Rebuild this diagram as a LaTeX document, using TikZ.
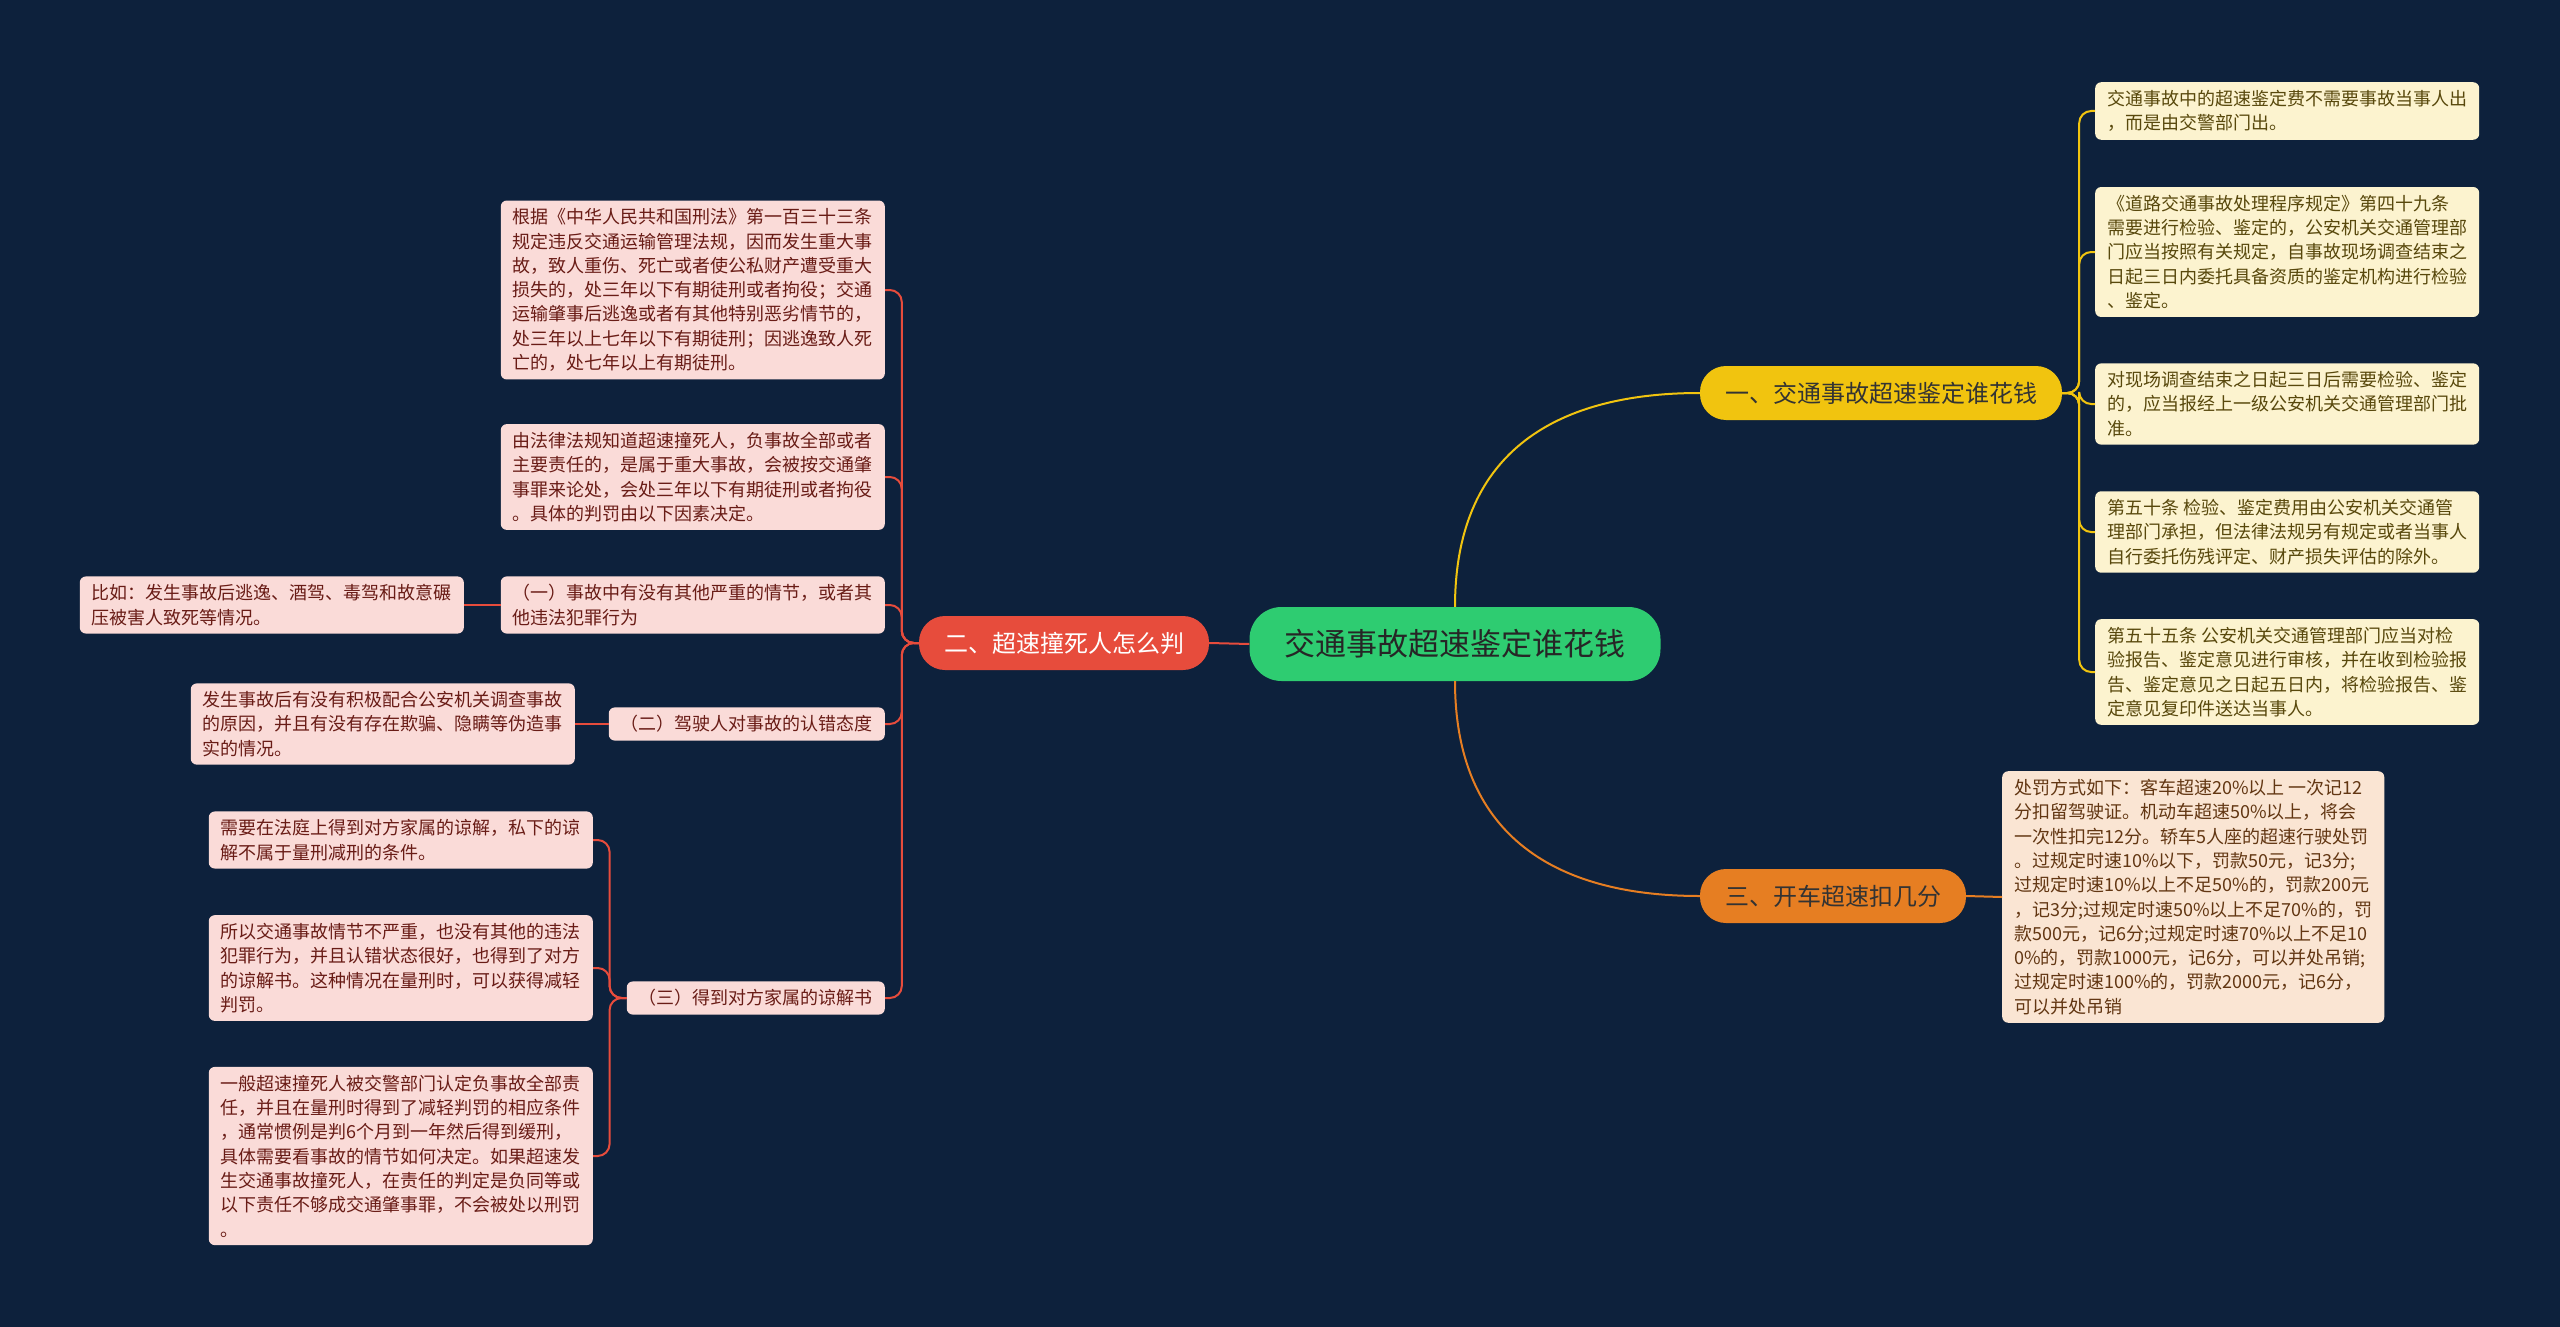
\documentclass[tikz,border=0pt]{standalone}
\usepackage{fontspec}
\setmainfont{Noto Sans CJK SC}
\usetikzlibrary{positioning}

\definecolor{bgnavy}{RGB}{13,33,60}
\definecolor{rootgreen}{RGB}{46,204,113}
\definecolor{brYellow}{RGB}{241,196,15}
\definecolor{brRed}{RGB}{231,76,60}
\definecolor{brOrange}{RGB}{230,126,34}
\definecolor{leafPink}{RGB}{250,219,216}
\definecolor{leafCream}{RGB}{252,243,207}
\definecolor{leafPeach}{RGB}{250,229,211}
\definecolor{txtPink}{RGB}{105,28,22}
\definecolor{txtCream}{RGB}{88,72,12}
\definecolor{txtPeach}{RGB}{98,54,18}

\tikzset{
  leaf/.style={rectangle, rounded corners=6pt, inner xsep=12pt, inner ysep=8pt,
    align=left, font=\fontsize{18}{24.3}\selectfont},
  pinkleaf/.style={leaf, fill=leafPink, text=txtPink},
  creamleaf/.style={leaf, fill=leafCream, text=txtCream},
  peachleaf/.style={leaf, fill=leafPeach, text=txtPeach},
  branch/.style={rectangle, rounded corners=26pt, inner xsep=25pt, minimum height=54pt,
    font=\fontsize{24}{28}\selectfont},
  link/.style={line width=2pt},
  elbow/.style={line width=2pt, rounded corners=12pt},
}

\begin{document}
\begin{tikzpicture}[x=1pt,y=-1pt]

\fill[bgnavy] (0,0) rectangle (2560,1327);
\useasboundingbox (0,0) rectangle (2560,1327);

% centre and main branches
\node (root) [rectangle, rounded corners=32pt, fill=rootgreen, text=black!85,
  inner xsep=35pt, minimum height=74pt, font=\fontsize{31}{36}\selectfont] at (1455,644) {交通事故超速鉴定谁花钱};
\node (fee) [branch, fill=brYellow, text=black!80] at (1881,393) {一、交通事故超速鉴定谁花钱};
\node (verdict) [branch, fill=brRed, text=white] at (1064,643) {二、超速撞死人怎么判};
\node (points) [branch, fill=brOrange, text=black!80] at (1833,896) {三、开车超速扣几分};

\draw[link, brYellow] (root.north) .. controls +(0,-150) and +(-150,0) .. (fee.west);
\draw[link, brRed] (root.west) -- (verdict.east);
\draw[link, brOrange] (root.south) .. controls +(0,150) and +(-150,0) .. (points.west);

% right side: who pays
\node (payA) [creamleaf, anchor=west] at (2095,111) {交通事故中的超速鉴定费不需要事故当事人出\\，而是由交警部门出。};
\node (payB) [creamleaf, anchor=west] at (2095,252) {《道路交通事故处理程序规定》第四十九条\\需要进行检验、鉴定的，公安机关交通管理部\\门应当按照有关规定，自事故现场调查结束之\\日起三日内委托具备资质的鉴定机构进行检验\\、鉴定。};
\node (payC) [creamleaf, anchor=west] at (2095,404) {对现场调查结束之日起三日后需要检验、鉴定\\的，应当报经上一级公安机关交通管理部门批\\准。};
\node (payD) [creamleaf, anchor=west] at (2095,532) {第五十条 检验、鉴定费用由公安机关交通管\\理部门承担，但法律法规另有规定或者当事人\\自行委托伤残评定、财产损失评估的除外。};
\node (payE) [creamleaf, anchor=west] at (2095,672) {第五十五条 公安机关交通管理部门应当对检\\验报告、鉴定意见进行审核，并在收到检验报\\告、鉴定意见之日起五日内，将检验报告、鉴\\定意见复印件送达当事人。};

\draw[elbow, brYellow] (fee.east) -- ++(17,0) |- (payA.west);
\draw[elbow, brYellow] (fee.east) -- ++(17,0) |- (payB.west);
\draw[elbow, brYellow] (fee.east) -- ++(17,0) |- (payC.west);
\draw[elbow, brYellow] (fee.east) -- ++(17,0) |- (payD.west);
\draw[elbow, brYellow] (fee.east) -- ++(17,0) |- (payE.west);

% right side: penalty points
\node (fine) [peachleaf, anchor=west] at (2002,897) {处罚方式如下：客车超速20\%以上 一次记12\\分扣留驾驶证。机动车超速50\%以上，将会\\一次性扣完12分。轿车5人座的超速行驶处罚\\。过规定时速10\%以下，罚款50元，记3分;\\过规定时速10\%以上不足50\%的，罚款200元\\，记3分;过规定时速50\%以上不足70\%的，罚\\款500元，记6分;过规定时速70\%以上不足10\\0\%的，罚款1000元，记6分，可以并处吊销;\\过规定时速100\%的，罚款2000元，记6分，\\可以并处吊销};

\draw[link, brOrange] (points.east) -- (fine.west);

% left side: sentencing
\node (law) [pinkleaf, anchor=east] at (885,290) {根据《中华人民共和国刑法》第一百三十三条\\规定违反交通运输管理法规，因而发生重大事\\故，致人重伤、死亡或者使公私财产遭受重大\\损失的，处三年以下有期徒刑或者拘役；交通\\运输肇事后逃逸或者有其他特别恶劣情节的，\\处三年以上七年以下有期徒刑；因逃逸致人死\\亡的，处七年以上有期徒刑。};
\node (crime) [pinkleaf, anchor=east] at (885,477) {由法律法规知道超速撞死人，负事故全部或者\\主要责任的，是属于重大事故，会被按交通肇\\事罪来论处，会处三年以下有期徒刑或者拘役\\。具体的判罚由以下因素决定。};
\node (factA) [pinkleaf, anchor=east] at (885,605) {（一）事故中有没有其他严重的情节，或者其\\他违法犯罪行为};
\node (factAeg) [pinkleaf, anchor=east] at (464,605) {比如：发生事故后逃逸、酒驾、毒驾和故意碾\\压被害人致死等情况。};
\node (factB) [pinkleaf, anchor=east] at (885,724) {（二）驾驶人对事故的认错态度};
\node (factBeg) [pinkleaf, anchor=east] at (575,724) {发生事故后有没有积极配合公安机关调查事故\\的原因，并且有没有存在欺骗、隐瞒等伪造事\\实的情况。};
\node (factC) [pinkleaf, anchor=east] at (885,998) {（三）得到对方家属的谅解书};
\node (pardonA) [pinkleaf, anchor=east] at (593,840) {需要在法庭上得到对方家属的谅解，私下的谅\\解不属于量刑减刑的条件。};
\node (pardonB) [pinkleaf, anchor=east] at (593,968) {所以交通事故情节不严重，也没有其他的违法\\犯罪行为，并且认错状态很好，也得到了对方\\的谅解书。这种情况在量刑时，可以获得减轻\\判罚。};
\node (pardonC) [pinkleaf, anchor=east] at (593,1156) {一般超速撞死人被交警部门认定负事故全部责\\任，并且在量刑时得到了减轻判罚的相应条件\\，通常惯例是判6个月到一年然后得到缓刑，\\具体需要看事故的情节如何决定。如果超速发\\生交通事故撞死人，在责任的判定是负同等或\\以下责任不够成交通肇事罪，不会被处以刑罚\\。};

\draw[elbow, brRed] (verdict.west) -- ++(-17,0) |- (law.east);
\draw[elbow, brRed] (verdict.west) -- ++(-17,0) |- (crime.east);
\draw[elbow, brRed] (verdict.west) -- ++(-17,0) |- (factA.east);
\draw[elbow, brRed] (verdict.west) -- ++(-17,0) |- (factB.east);
\draw[elbow, brRed] (verdict.west) -- ++(-17,0) |- (factC.east);
\draw[link, brRed] (factA.west) -- (factAeg.east);
\draw[link, brRed] (factB.west) -- (factBeg.east);
\draw[elbow, brRed] (factC.west) -- ++(-17,0) |- (pardonA.east);
\draw[elbow, brRed] (factC.west) -- ++(-17,0) |- (pardonB.east);
\draw[elbow, brRed] (factC.west) -- ++(-17,0) |- (pardonC.east);

\end{tikzpicture}
\end{document}
